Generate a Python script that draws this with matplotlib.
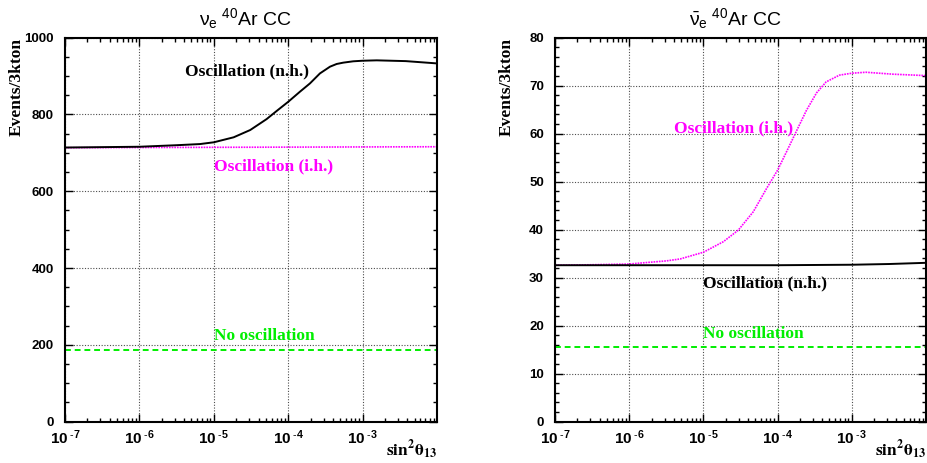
import numpy as np
import matplotlib
matplotlib.use("Agg")
import matplotlib.pyplot as plt
from matplotlib.ticker import FixedLocator, FixedFormatter, LogLocator, NullFormatter, MultipleLocator

plt.rcParams['font.family'] = 'Liberation Sans'
plt.rcParams['mathtext.fontset'] = 'custom'
plt.rcParams['mathtext.rm'] = 'Liberation Sans'
plt.rcParams['mathtext.bf'] = 'Liberation Sans:bold'
plt.rcParams['mathtext.it'] = 'Liberation Sans:italic'
plt.rcParams['mathtext.default'] = 'rm'

# log10(sin^2 theta13) sample points and event counts
# nu_e 40Ar CC
lx_nh_nu = [-7, -6.5, -6, -5.5, -5.186, -5, -4.733, -4.51, -4.29, -4.156, -4.0,
            -3.841, -3.707, -3.573, -3.438, -3.349, -3.26, -3.126, -3.0, -2.81,
            -2.42, -2.0]
nh_nu = [714, 715, 716, 720, 723, 727.6, 740.6, 759.6, 788, 809, 833,
         859.5, 881, 907, 924.5, 931.5, 935, 938.5, 940, 941,
         939, 933]
lx_ih_nu = [-7, -6, -5, -4, -3, -2]
ih_nu = [713.5, 714, 714.5, 715, 715.5, 716]
lx_noosc = [-7, -2]
noosc_nu = [186.5, 186.5]

# anti-nu_e 40Ar CC
lx_nh_anu = [-7, -6, -5, -4, -3.5, -3, -2.5, -2]
nh_anu = [32.6, 32.6, 32.6, 32.6, 32.65, 32.7, 32.85, 33.1]
lx_ih_anu = [-7, -6.5, -6, -5.5, -5.314, -5, -4.731, -4.53, -4.327, -4.148, -4.0,
             -3.879, -3.744, -3.61, -3.475, -3.345, -3.166, -3.0, -2.81, -2.45, -2.0]
ih_anu = [32.6, 32.7, 32.85, 33.5, 33.9, 35.3, 37.5, 39.9, 43.75, 48.6, 52.4,
          56.25, 60.6, 64.9, 68.5, 70.8, 72.2, 72.6, 72.8, 72.4, 72.1]
noosc_anu = [15.5, 15.5]

decades = [1e-7, 1e-6, 1e-5, 1e-4, 1e-3]
decade_labels = [r'$\mathbf{10^{\;\text{-}7}}$', r'$\mathbf{10^{\;\text{-}6}}$',
                 r'$\mathbf{10^{\;\text{-}5}}$', r'$\mathbf{10^{\;\text{-}4}}$',
                 r'$\mathbf{10^{\;\text{-}3}}$']

serif_bold = dict(family='Liberation Serif', weight='bold', fontsize=12.5)


def style_axes(ax, ymax, ymajor, yminor, title):
    ax.set_xscale('log')
    ax.set_xlim(1e-7, 1e-2)
    ax.set_ylim(0, ymax)
    ax.xaxis.set_major_locator(FixedLocator(decades))
    ax.xaxis.set_major_formatter(FixedFormatter(decade_labels))
    ax.xaxis.set_minor_locator(LogLocator(base=10, subs=np.arange(2, 10), numticks=20))
    ax.xaxis.set_minor_formatter(NullFormatter())
    ax.yaxis.set_major_locator(MultipleLocator(ymajor))
    ax.yaxis.set_minor_locator(MultipleLocator(yminor))
    for sp in ax.spines.values():
        sp.set_linewidth(1.5)
    ax.tick_params(which='both', direction='in', top=True, right=True, width=1.0)
    ax.tick_params(which='major', length=5.5)
    ax.tick_params(which='minor', length=3)
    ax.tick_params(axis='y', which='major', pad=8, labelsize=9.5)
    ax.tick_params(axis='x', which='major', pad=5, labelsize=11)
    for lab in ax.get_yticklabels():
        lab.set_fontweight('bold')
    ax.grid(True, which='major', color='0.3', linestyle=(0, (1, 1.5)), linewidth=0.8)
    ax.set_axisbelow(True)
    ax.set_title(title, fontsize=14, x=0.485, pad=9)
    ax.set_ylabel('Events/3kton', loc='top', **serif_bold)
    ax.yaxis.set_label_coords(-0.13, 1.0)
    ax.yaxis.label.set_verticalalignment('center')
    ax.set_xlabel(r'$\mathbf{sin^{2}\theta_{13}}$', loc='right', fontsize=12.5,
                  math_fontfamily='stix')
    ax.xaxis.set_label_coords(1.0, -0.045)


fig = plt.figure(figsize=(9.27, 4.63), dpi=100)
ax1 = fig.add_axes([0.0701, 0.0892, 0.4013, 0.8294])
ax2 = fig.add_axes([0.5987, 0.0892, 0.4002, 0.8294])

# left panel
ax1.plot(10.0 ** np.array(lx_noosc), noosc_nu, color='#00ee00', lw=1.4, ls=(0, (3, 2)))
ax1.plot(10.0 ** np.array(lx_ih_nu), ih_nu, color='#ff00ff', lw=1.2, ls=(0, (1, 0.6)))
ax1.plot(10.0 ** np.array(lx_nh_nu), nh_nu, color='black', lw=1.4)
style_axes(ax1, 1000, 200, 50, r'$\nu_{e}\;{}^{40}$Ar CC')
ax1.text(10 ** -5.387, 913, 'Oscillation (n.h.)', color='black', va='center', **serif_bold)
ax1.text(1e-5, 664, 'Oscillation (i.h.)', color='#ff00ff', va='center', **serif_bold)
ax1.text(1e-5, 224, 'No oscillation', color='#00ee00', va='center', **serif_bold)

# right panel
ax2.plot(10.0 ** np.array(lx_noosc), noosc_anu, color='#00ee00', lw=1.4, ls=(0, (3, 2)))
ax2.plot(10.0 ** np.array(lx_ih_anu), ih_anu, color='#ff00ff', lw=1.2, ls=(0, (1, 0.6)))
ax2.plot(10.0 ** np.array(lx_nh_anu), nh_anu, color='black', lw=1.4)
style_axes(ax2, 80, 10, 2, r'$\bar{\nu}_{e}\;{}^{40}$Ar CC')
ax2.text(10 ** -5.4, 61.1, 'Oscillation (i.h.)', color='#ff00ff', va='center', **serif_bold)
ax2.text(1e-5, 28.8, 'Oscillation (n.h.)', color='black', va='center', **serif_bold)
ax2.text(1e-5, 18.2, 'No oscillation', color='#00ee00', va='center', **serif_bold)

fig.savefig('out.png', dpi=100)
